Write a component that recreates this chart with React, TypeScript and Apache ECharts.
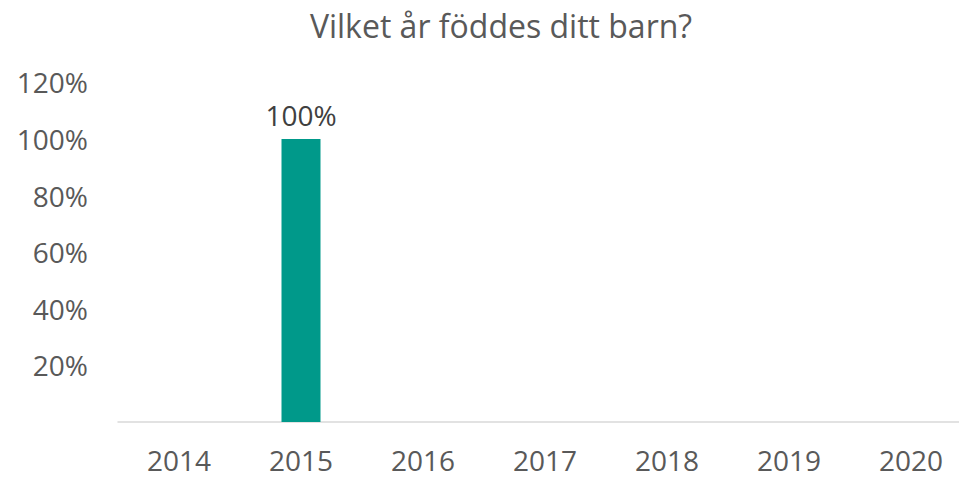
import React, { useEffect, useRef } from "react";
import * as echarts from "echarts";

const title = "Vilket år föddes ditt barn?";
const categories = ["2014", "2015", "2016", "2017", "2018", "2019", "2020"];
const values = [0, 1, 0, 0, 0, 0, 0];

export default function App() {
  const ref = useRef<HTMLDivElement>(null);
  useEffect(() => {
    if (!ref.current) return;
    const chart = echarts.init(ref.current, undefined, { renderer: "svg" });
    chart.setOption({
      animation: false,
      backgroundColor: "#ffffff",
      textStyle: { fontFamily: "Open Sans" },
      title: {
        text: title,
        left: 496,
        textAlign: "center",
        top: 4,
        textStyle: { color: "#595959", fontSize: 32, fontWeight: "normal", fontFamily: "Open Sans" },
      },
      grid: {
        left: 118,
        top: 82.4,
        width: 854,
        height: 339.6,
        containLabel: false,
        outerBoundsMode: "none",
      },
      xAxis: {
        type: "category",
        data: categories,
        axisLine: { show: true, lineStyle: { color: "#d9d9d9", width: 1.5 } },
        axisTick: { show: false },
        axisLabel: {
          color: "#595959",
          fontSize: 28,
          lineHeight: 28,
          margin: 24,
          fontFamily: "Open Sans",
        },
      },
      yAxis: {
        type: "value",
        min: 0,
        max: 1.2,
        interval: 0.2,
        splitLine: { show: false },
        axisLine: { show: false },
        axisTick: { show: false },
        axisLabel: {
          color: "#595959",
          fontSize: 28,
          margin: 30,
          fontFamily: "Open Sans",
          formatter: (v: number) => (v === 0 ? "" : Math.round(v * 100) + "%"),
        },
      },
      series: [
        {
          type: "bar",
          data: values.map((v) => (v === 0 ? null : v)),
          barWidth: 39,
          itemStyle: { color: "#00998a" },
          label: {
            show: true,
            position: "top",
            distance: 10,
            color: "#404040",
            fontSize: 28,
            fontFamily: "Open Sans",
            formatter: (p: any) => Math.round(p.value * 100) + "%",
          },
        },
      ],
    });
    return () => chart.dispose();
  }, []);
  return (
    <div
      ref={ref}
      style={{ position: "fixed", left: 0, top: 0, width: 959, height: 480 }}
    />
  );
}
